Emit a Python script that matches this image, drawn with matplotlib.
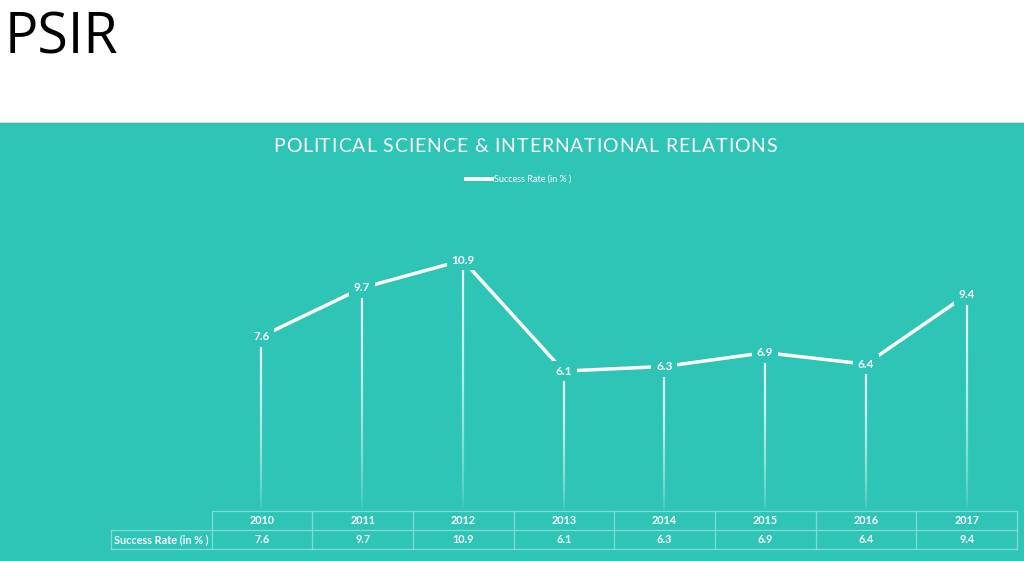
import numpy as np
import matplotlib.pyplot as plt
from matplotlib.collections import LineCollection
from matplotlib.patches import Rectangle

years = ['2010', '2011', '2012', '2013', '2014', '2015', '2016', '2017']
success_rate = [7.6, 9.7, 10.9, 6.1, 6.3, 6.9, 6.4, 9.4]
series_name = 'Success Rate (in % )'
chart_title = 'POLITICAL SCIENCE & INTERNATIONAL RELATIONS'
page_title = 'PSIR'

TEAL = '#2ec4b6'
GRID = '#7fdcd2'
W, H = 1024, 561

plt.rcParams['font.family'] = ['Lato', 'DejaVu Sans']


def fx(px):
    return px / W


def fy(py):
    return 1 - py / H


def spaced_text(fig, cx, cy, s, total_w, **kw):
    # draw text char by char, stretched to total_w pixels (letter spacing)
    r = fig.canvas.get_renderer()
    widths = []
    for ch in s:
        t = fig.text(0, 0, ch, **kw)
        widths.append(t.get_window_extent(r).width if ch != ' ' else None)
        t.remove()
    sp = fig.text(0, 0, 'a a', **kw)
    a = fig.text(0, 0, 'aa', **kw)
    space_w = sp.get_window_extent(r).width - a.get_window_extent(r).width
    sp.remove()
    a.remove()
    widths = [space_w if w is None else w for w in widths]
    gap = (total_w - sum(widths)) / (len(s) - 1)
    x = cx - total_w / 2
    for ch, w in zip(s, widths):
        if ch != ' ':
            fig.text(fx(x), fy(cy), ch, ha='left', va='center', **kw)
        x += w + gap


fig = plt.figure(figsize=(W / 100, H / 100), dpi=100, facecolor='white')
fig.patches.append(Rectangle((0, 0), 1, fy(123), transform=fig.transFigure,
                             facecolor=TEAL, edgecolor='none', zorder=-2))
fig.patches.append(Rectangle((0, fy(123)), 1, 1.5 / H, transform=fig.transFigure,
                             facecolor='#d8d8d8', edgecolor='none', zorder=-2))

fig.text(fx(5), fy(39), page_title, fontsize=40, color='black',
         ha='left', va='center', family=['Open Sans', 'DejaVu Sans'])
spaced_text(fig, 525, 146, chart_title, 504, fontsize=14, color='white',
            family=['Lato', 'DejaVu Sans'])

# chart area: x spans table columns, y=0 at pixel 512
ax = fig.add_axes([fx(211), fy(512), fx(1017) - fx(211), fy(200) - fy(512)])
ax.set_facecolor('none')
ax.set_xlim(-0.5, len(years) - 0.5)
ax.set_ylim(0, (512 - 200) / 23.1)
ax.axis('off')

xs = np.arange(len(years))

# fading drop lines
for x, v in zip(xs, success_rate):
    ys = np.linspace(0, v, 60)
    segs = [[(x, ys[i]), (x, ys[i + 1])] for i in range(len(ys) - 1)]
    alphas = np.linspace(0.0, 0.9, len(segs)) ** 0.6
    cols = [(1, 1, 1, a) for a in alphas]
    ax.add_collection(LineCollection(segs, colors=cols, linewidths=1.6, zorder=1))

ax.plot(xs, success_rate, color='white', lw=2.5, zorder=2,
        solid_capstyle='butt')
for x, v in zip(xs, success_rate):
    ax.text(x, v, f'{v:g}', ha='center', va='center', color='white',
            fontsize=8.5, fontweight='bold', zorder=3,
            bbox=dict(boxstyle='square,pad=0.4', facecolor=TEAL,
                      edgecolor='none'))

# legend
fig.add_artist(plt.Line2D([fx(466), fx(492)], [fy(179), fy(179)],
                          color='white', lw=2.8, transform=fig.transFigure))
fig.text(fx(494), fy(179), series_name, fontsize=6.5, color='white',
         ha='left', va='center')

# table
tab = fig.add_axes([fx(111), fy(549), fx(1017) - fx(111), fy(511) - fy(549)])
tab.set_facecolor('none')
tab.set_xlim(-1.5, len(years) - 0.5)
tab.set_ylim(0, 2)
tab.axis('off')
lk = dict(color=GRID, lw=0.9, clip_on=False)
tab.plot([-0.5, len(years) - 0.5], [2, 2], **lk)
tab.plot([-1.5, len(years) - 0.5], [1, 1], **lk)
tab.plot([-1.5, len(years) - 0.5], [0, 0], **lk)
tab.plot([-1.5, -1.5], [0, 1], **lk)
for i in range(len(years) + 1):
    tab.plot([i - 0.5, i - 0.5], [0, 2], **lk)
for i, (yr, v) in enumerate(zip(years, success_rate)):
    tab.text(i, 1.5, yr, ha='center', va='center', color='white',
             fontsize=7.8, fontweight='bold')
    tab.text(i, 0.5, f'{v:g}', ha='center', va='center', color='white',
             fontsize=7.8, fontweight='bold')
tab.text(-1.47, 0.5, series_name, ha='left', va='center', color='white',
         fontsize=7.8, fontweight='bold')

fig.savefig('out.png', dpi=100, facecolor=fig.get_facecolor())
